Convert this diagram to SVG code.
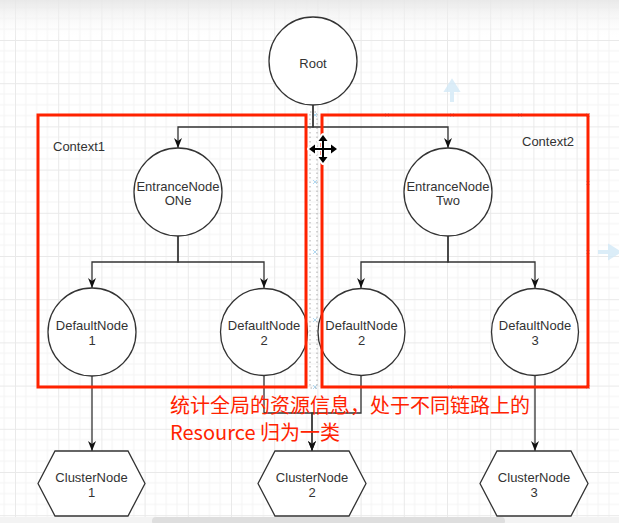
<svg xmlns="http://www.w3.org/2000/svg" width="619" height="523" viewBox="0 0 619 523">
<style>
.node{fill:#fff;stroke:#333;stroke-width:1.3}
.lbl{font-family:"Liberation Sans",Arial,sans-serif;font-size:13px;fill:#333;text-anchor:middle}
.ctx{font-family:"Liberation Sans",Arial,sans-serif;font-size:13px;fill:#333}
.edge{fill:none;stroke:#333;stroke-width:1.3}
.box{fill:none;stroke:#FF2200;stroke-width:3}
.note{font-family:"Noto Sans CJK SC","Microsoft YaHei",sans-serif;font-size:20px;fill:#FF2200}
.cp{stroke:#9fd0ee;stroke-width:1;fill:none}
</style>
<defs>
<pattern id="grid" x="15" y="40" width="43.2" height="43.2" patternUnits="userSpaceOnUse">
<path d="M10.8,0V43.2M21.6,0V43.2M32.4,0V43.2M0,10.8H43.2M0,21.6H43.2M0,32.4H43.2" stroke="#f4f4f4" stroke-width="1" fill="none"/>
<path d="M0.5,0V43.2M0,0.5H43.2" stroke="#e9e9e9" stroke-width="1" fill="none"/>
</pattern>
<linearGradient id="top" x1="0" y1="0" x2="0" y2="1">
<stop offset="0" stop-color="#e6e6e6" stop-opacity="0.9"/>
<stop offset="1" stop-color="#ffffff" stop-opacity="0"/>
</linearGradient>
<marker id="arr" viewBox="0 0 10 8" refX="10" refY="4" markerWidth="10" markerHeight="8" markerUnits="userSpaceOnUse" orient="auto">
<path d="M0,0 L10,4 L0,8 L3,4 z" fill="#111"/>
</marker>
</defs>
<rect width="619" height="523" fill="#fff"/>
<rect width="619" height="523" fill="url(#grid)"/>
<rect width="619" height="40" fill="url(#top)"/>
<rect x="0" y="517" width="619" height="6" fill="#f3f3f3"/>
<rect x="152" y="517" width="353" height="8" rx="4" fill="#dedede"/>

<!-- faint hover hints -->
<g id="hints" opacity="0.8">
<path d="M452,102V88 M447,90 L452,82 L457,90 z" stroke="#d3e9f7" stroke-width="4" fill="#d3e9f7"/>
<path d="M598,252H612 M610,247 L618,252 L610,257 z" stroke="#d3e9f7" stroke-width="4" fill="#d3e9f7"/>
<path class="cp" d="M385,113l4,4m0,-4l-4,4 M450,113l4,4m0,-4l-4,4 M518,113l4,4m0,-4l-4,4 M586,113l4,4m0,-4l-4,4 M586,181l4,4m0,-4l-4,4 M586,250l4,4m0,-4l-4,4 M586,385l4,4m0,-4l-4,4 M313,113l4,4m0,-4l-4,4 M313,180l4,4m0,-4l-4,4 M313,250l4,4m0,-4l-4,4 M313,318l4,4m0,-4l-4,4 M313,385l4,4m0,-4l-4,4 M448,385l4,4m0,-4l-4,4"/>
</g>
<rect id="selection" x="310" y="112" width="7" height="276" fill="none" stroke="#aaa" stroke-width="1" stroke-dasharray="1.5,3"/>

<g id="connectors">
<path class="edge" d="M313,105V127H178V148" marker-end="url(#arr)"/>
<path class="edge" d="M313,105V127H448V148" marker-end="url(#arr)"/>
<path class="edge" d="M178,236V262H92V288" marker-end="url(#arr)"/>
<path class="edge" d="M178,236V262H264V288" marker-end="url(#arr)"/>
<path class="edge" d="M448,236V262H361V288" marker-end="url(#arr)"/>
<path class="edge" d="M448,236V262H535V288" marker-end="url(#arr)"/>
<path class="edge" d="M92,376V451" marker-end="url(#arr)"/>
<path class="edge" d="M264,376V413H312V451" marker-end="url(#arr)"/>
<path class="edge" d="M361,376V413H312V451" marker-end="url(#arr)"/>
<path class="edge" d="M535,376V451" marker-end="url(#arr)"/>
</g>

<g id="root"><circle class="node" cx="313" cy="61" r="44"/><text class="lbl" x="313" y="67.5">Root</text></g>
<g id="entrance1"><circle class="node" cx="178" cy="192" r="44"/><text class="lbl" x="178" y="190.5">EntranceNode</text><text class="lbl" x="178" y="204.5">ONe</text></g>
<g id="entrance2"><circle class="node" cx="448" cy="192" r="44"/><text class="lbl" x="448" y="190.5">EntranceNode</text><text class="lbl" x="448" y="204.5">Two</text></g>
<g id="default1"><circle class="node" cx="92" cy="332" r="44"/><text class="lbl" x="92" y="330">DefaultNode</text><text class="lbl" x="92" y="344.5">1</text></g>
<g id="default2a"><circle class="node" cx="264" cy="332" r="43.5"/><text class="lbl" x="264" y="330">DefaultNode</text><text class="lbl" x="264" y="344.5">2</text></g>
<g id="default2b"><circle class="node" cx="361.5" cy="332" r="43.5"/><text class="lbl" x="361.5" y="330">DefaultNode</text><text class="lbl" x="361.5" y="344.5">2</text></g>
<g id="default3"><circle class="node" cx="535" cy="332" r="43.5"/><text class="lbl" x="535" y="330">DefaultNode</text><text class="lbl" x="535" y="344.5">3</text></g>
<g id="cluster1"><polygon class="node" points="38,483.5 55,451 128,451 145,483.5 128,516 55,516"/><text class="lbl" x="91.5" y="481.5">ClusterNode</text><text class="lbl" x="91.5" y="496.5">1</text></g>
<g id="cluster2"><polygon class="node" points="258,483.5 275,451 349,451 366,483.5 349,516 275,516"/><text class="lbl" x="312" y="481.5">ClusterNode</text><text class="lbl" x="312" y="496.5">2</text></g>
<g id="cluster3"><polygon class="node" points="480,483.5 497,451 571,451 588,483.5 571,516 497,516"/><text class="lbl" x="534" y="481.5">ClusterNode</text><text class="lbl" x="534" y="496.5">3</text></g>

<g id="context1"><rect class="box" x="38" y="115" width="268" height="272"/><text class="ctx" x="53" y="151">Context1</text></g>
<g id="context2"><rect class="box" x="322" y="115" width="266" height="272"/><text class="ctx" x="522" y="146">Context2</text></g>

<g id="cursor">
<g stroke="#fff" stroke-width="4" fill="#fff" stroke-linejoin="round">
<path d="M310,149H336M323,136V162"/>
<polygon points="309,149 315,144.5 315,153.5"/><polygon points="337,149 331,144.5 331,153.5"/>
<polygon points="323,135 318.5,141 327.5,141"/><polygon points="323,163 318.5,157 327.5,157"/>
</g>
<g stroke="#000" stroke-width="2" fill="#000">
<path d="M312,149H334M323,138V160"/>
</g>
<g fill="#000">
<polygon points="309,149 315,144.5 315,153.5"/><polygon points="337,149 331,144.5 331,153.5"/>
<polygon points="323,135 318.5,141 327.5,141"/><polygon points="323,163 318.5,157 327.5,157"/>
</g>
</g>

<g id="note">
<text class="note" x="170" y="413">统计全局的资源信息，处于不同链路上的</text>
<text class="note" x="170" y="440">Resource 归为一类</text>
</g>
</svg>
